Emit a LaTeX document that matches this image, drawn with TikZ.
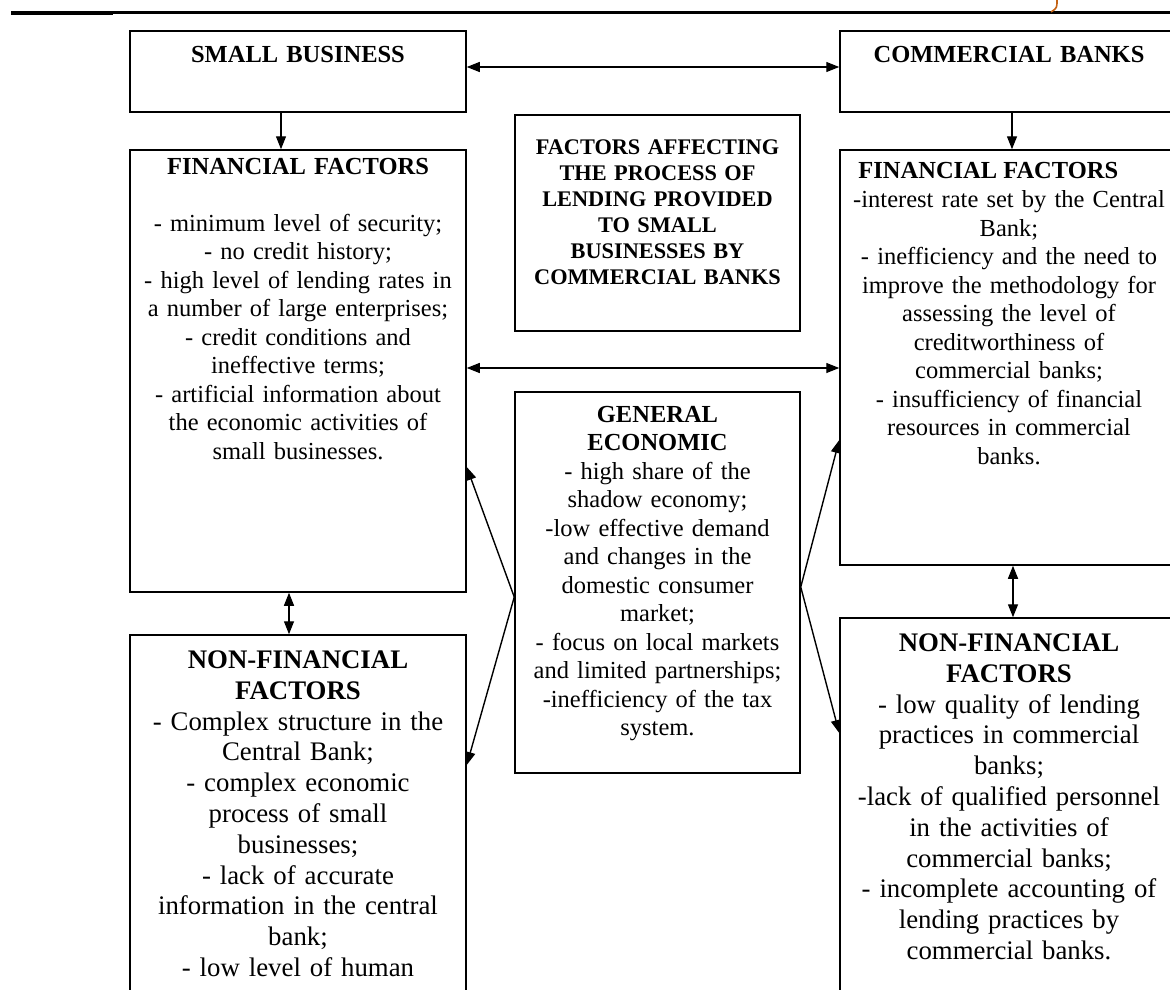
\documentclass[tikz,border=0pt]{standalone}
\usepackage{fontspec}
\setmainfont{Liberation Serif}
\usetikzlibrary{positioning,calc,arrows.meta}
\definecolor{hdrorange}{RGB}{196,98,20}

\begin{document}
\begin{tikzpicture}[x=1pt, y=-1pt,
        box/.style={draw, line width=1.5pt, inner sep=0pt},
        txt/.style={inner sep=0pt, text width=320pt, align=center, font=\fontsize{24.5}{28.5}\selectfont},
        bigtxt/.style={txt, font=\fontsize{26.8}{30.8}\selectfont},
        arr/.style={line width=1.4pt, -{Triangle[length=13pt,width=10pt]}},
        dblarr/.style={line width=1.4pt, {Triangle[length=13pt,width=10pt]}-{Triangle[length=13pt,width=10pt]}}]
        \useasboundingbox (0,0) rectangle (1170,990);
        \clip (0,0) rectangle (1170,990);

        % page header rule and the cut-off mark above it
        \draw[line width=4pt] (11,13) -- (113,13);
        \draw[line width=3pt] (113,12.5) -- (1170,12.5);
        \draw[hdrorange, line width=1.6pt] (1057,0) .. controls (1057,8) .. (1051,12);

        % the boxes
        \node[box, minimum width=336pt, minimum height=81pt]  (sb)  at (298,71.5)   {};   % small business
        \node[box, minimum width=338pt, minimum height=81pt]  (cb)  at (1009,71.5)  {};   % commercial banks
        \node[box, minimum width=336pt, minimum height=442pt] (fl)  at (298,371)    {};   % financial, left
        \node[box, minimum width=285pt, minimum height=216pt] (ft)  at (657.5,223)  {};   % title box
        \node[box, minimum width=338pt, minimum height=415pt] (fr)  at (1009,357.5) {};   % financial, right
        \node[box, minimum width=285pt, minimum height=381pt] (ge)  at (657.5,582.5) {};  % general economic
        \node[box, minimum width=336pt, minimum height=365pt] (nfl) at (298,817.5)  {};   % non-financial, left
        \node[box, minimum width=338pt, minimum height=382pt] (nfr) at (1009,809)   {};   % non-financial, right

        % the texts
        \node[txt, below=15.5pt of sb.north] (sbtxt) {\textbf{SMALL BUSINESS}};
        \node[txt, below=16pt of cb.north] (cbtxt) {\textbf{COMMERCIAL BANKS}};
        \node[txt, below=8.8pt of fl.north] (fltxt) {\textbf{FINANCIAL FACTORS}\\[28.5pt]
            - minimum level of security;\\ - no credit history;\\ - high level of lending rates in\\
            a number of large enterprises;\\ - credit conditions and\\ ineffective terms;\\
            - artificial information about\\ the economic activities of\\ small businesses.};
        \node[txt, text width=275pt, font=\bfseries\fontsize{22.3}{26}\selectfont, below=25pt of ft.north] (fttxt)
            {FACTORS AFFECTING\\ THE PROCESS OF\\ LENDING PROVIDED\\ TO SMALL\\ BUSINESSES BY\\ COMMERCIAL BANKS};
        \node[txt, text width=, below right=13.3pt and 19pt of fr.north west] (frtitle) {\textbf{FINANCIAL FACTORS}};
        \node[txt, below=41.3pt of fr.north] (frtxt) {-interest rate set by the Central\\ Bank;\\
            - inefficiency and the need to\\ improve the methodology for\\ assessing the level of\\
            creditworthiness of\\ commercial banks;\\ - insufficiency of financial\\
            resources in commercial\\ banks.};
        \node[txt, text width=275pt, below=14.8pt of ge.north] (getxt) {\textbf{GENERAL}\\ \textbf{ECONOMIC}\\
            - high share of the\\ shadow economy;\\ -low effective demand\\ and changes in the\\
            domestic consumer\\ market;\\ - focus on local markets\\ and limited partnerships;\\
            -inefficiency of the tax\\ system.};
        \node[bigtxt, below=16.3pt of nfl.north] (nfltxt) {\textbf{NON-FINANCIAL}\\ \textbf{FACTORS}\\
            - Complex structure in the\\ Central Bank;\\ - complex economic\\ process of small\\
            businesses;\\ - lack of accurate\\ information in the central\\ bank;\\ - low level of human};
        \node[bigtxt, below=16.3pt of nfr.north] (nfrtxt) {\textbf{NON-FINANCIAL}\\ \textbf{FACTORS}\\
            - low quality of lending\\ practices in commercial\\ banks;\\ -lack of qualified personnel\\
            in the activities of\\ commercial banks;\\ - incomplete accounting of\\
            lending practices by\\ commercial banks.};

        % start points of the slanted arrows
        \coordinate (gel) at ($(ge.west)+(0,14.5)$);
        \coordinate (ger) at ($(ge.east)+(0,4.5)$);

        % connectors
        \draw[dblarr] ($(sb.east)+(0,-4.5)$) -- ($(cb.west)+(0,-4.5)$);     % small business <-> banks
        \draw[arr] ($(sb.south)+(-17,0)$) -- ($(fl.north)+(-17,0)$);       % down to financial, left
        \draw[arr] ($(cb.south)+(3,0)$) -- ($(fr.north)+(3,0)$);           % down to financial, right
        \draw[dblarr] ($(fl.east)+(0,-3)$) -- ($(fr.west)+(0,10.5)$);       % financial <-> financial
        \draw[dblarr] ($(fl.south)+(-9,0)$) -- ($(nfl.north)+(-9,0)$);      % financial <-> non-financial, left
        \draw[dblarr] ($(fr.south)+(4,0)$) -- ($(nfr.north)+(4,0)$);        % financial <-> non-financial, right
        \draw[arr] (gel) -- ($(fl.east)+(0,96)$);
        \draw[arr] (gel) -- ($(nfl.east)+(0,-52.5)$);
        \draw[arr] (ger) -- ($(fr.west)+(0,82.5)$);
        \draw[arr] (ger) -- ($(nfr.west)+(0,-76)$);
\end{tikzpicture}
\end{document}
